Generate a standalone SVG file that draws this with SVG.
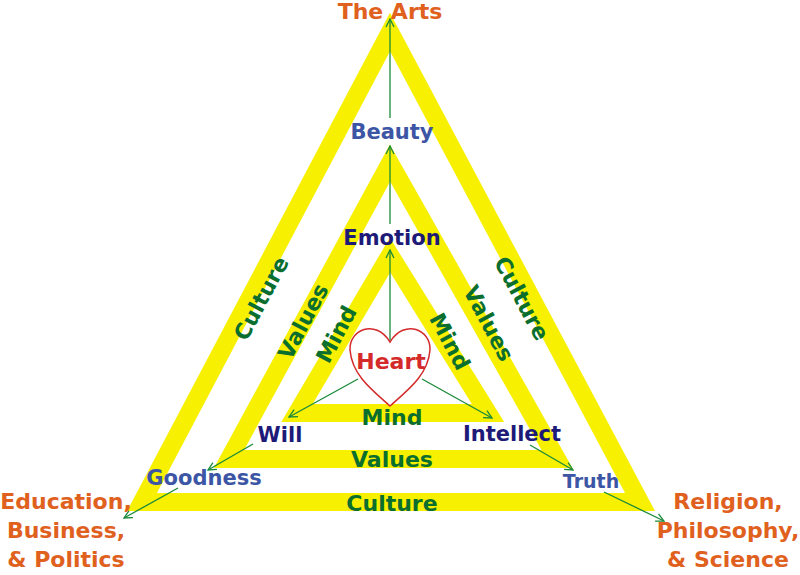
<svg xmlns="http://www.w3.org/2000/svg" width="800" height="575" viewBox="0 0 800 575">
<style>
.tri{fill:none;stroke:#f7f000;stroke-width:18;stroke-linejoin:miter}
text{font-family:"DejaVu Sans",Verdana,sans-serif;font-weight:bold;text-anchor:middle}
.o{fill:#e0601e;font-size:22px}
.g{fill:#0a6e2e;font-size:22px}
.b{fill:#3c55a5;font-size:21px}
.n{fill:#1e1a78;font-size:21px}
.ar{stroke:#1a8a3a;stroke-width:1.3;fill:none;marker-end:url(#ah)}
</style>
<defs><marker id="ah" markerWidth="10" markerHeight="10" refX="9" refY="5" orient="auto" markerUnits="userSpaceOnUse"><path d="M1,1 L9,5 L1,9" fill="none" stroke="#1a8a3a" stroke-width="1.3"/></marker></defs>
<g id="triangles">
<polygon class="tri" points="390,32 142,502 640,502"/>
<polygon class="tri" points="390,163 229,459 557,459"/>
<polygon class="tri" points="390,255 297,413 488,413"/>
</g>
<g id="heart"><path d="M390,406 C372,390 352,375 350,350 C349,330 375,318 390,342 C405,318 431,330 430,350 C428,375 408,390 390,406 Z" fill="#fff" stroke="#d42a2a" stroke-width="1.5"/><text x="391" y="369" style="fill:#d42a2a;font-size:22px">Heart</text></g>
<g id="connectors">
<line class="ar" x1="390" y1="340" x2="390" y2="250"/>
<line class="ar" x1="390" y1="224" x2="390" y2="146"/>
<line class="ar" x1="390" y1="118" x2="390" y2="19"/>
<line class="ar" x1="358" y1="379" x2="289" y2="417"/>
<line class="ar" x1="253" y1="444" x2="208" y2="470"/>
<line class="ar" x1="178" y1="488" x2="124" y2="518"/>
<line class="ar" x1="422" y1="379" x2="492" y2="418"/>
<line class="ar" x1="530" y1="445" x2="573" y2="470"/>
<line class="ar" x1="604" y1="492" x2="664" y2="521"/>
</g>
<g id="labels">
<text class="o" x="390" y="19">The Arts</text>
<text class="o" x="66" y="509">Education,</text>
<text class="o" x="66" y="538">Business,</text>
<text class="o" x="66" y="567">&amp; Politics</text>
<text class="o" x="728" y="509">Religion,</text>
<text class="o" x="728" y="538">Philosophy,</text>
<text class="o" x="728" y="567">&amp; Science</text>
<text class="b" x="392" y="139">Beauty</text>
<text class="n" x="392" y="245">Emotion</text>
<text class="n" x="280" y="442">Will</text>
<text class="n" x="512" y="441">Intellect</text>
<text class="b" x="204" y="485">Goodness</text>
<text class="b" style="font-size:19px" x="591" y="488">Truth</text>
<text class="g" x="392" y="425">Mind</text>
<text class="g" x="392" y="467">Values</text>
<text class="g" x="392" y="511">Culture</text>
<text class="g" transform="translate(268,302) rotate(-62)">Culture</text>
<text class="g" transform="translate(515,302) rotate(62)">Culture</text>
<text class="g" transform="translate(310,325) rotate(-62)">Values</text>
<text class="g" transform="translate(482,327) rotate(62)">Values</text>
<text class="g" transform="translate(343,338) rotate(-62)">Mind</text>
<text class="g" transform="translate(443,345) rotate(62)">Mind</text>
</g>
</svg>
